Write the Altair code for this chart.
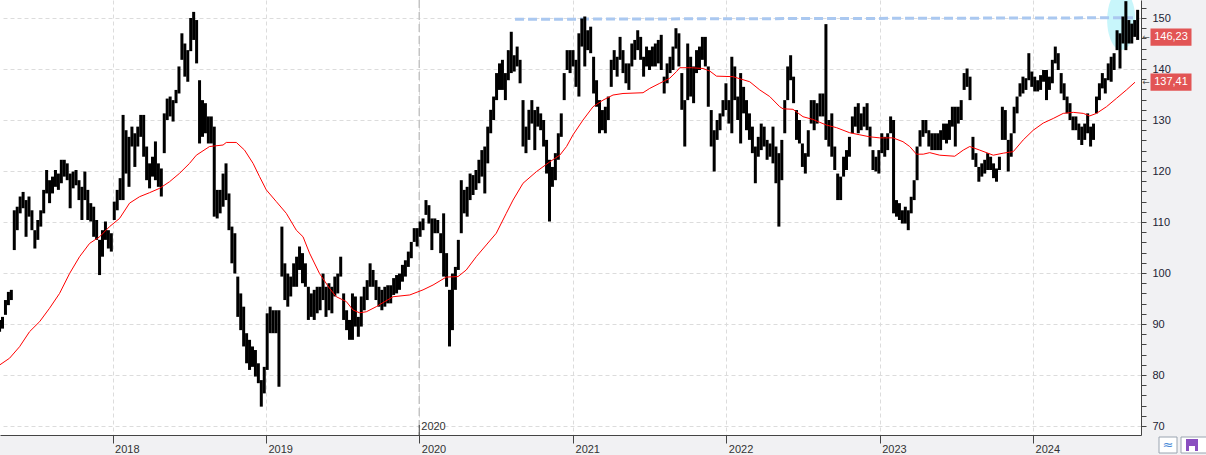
import altair as alt
import pandas as pd
import numpy as np

# ---------------- data ----------------
START = "2017-04-07"          # first weekly bar
# weekly high / low of the price bars
HIGH = [
    90.8, 91.4, 94.7, 96.3, 96.7, 112.3, 113.0, 115.0, 115.9, 114.3,
    115.0, 112.3, 108.4, 110.4, 112.3, 116.3, 120.2, 118.2, 118.9, 120.2,
    119.5, 122.2, 122.2, 121.5, 119.5, 119.9, 120.2, 118.2, 116.9, 119.9,
    116.3, 113.7, 113.0, 110.4, 106.5, 108.4, 110.1, 108.4, 107.8, 114.0,
    116.3, 118.6, 131.0, 128.0, 126.7, 128.7, 127.4, 128.7, 131.0, 131.0,
    124.8, 121.5, 122.8, 125.8, 121.5, 120.5, 131.3, 134.2, 134.6, 133.9,
    135.9, 140.5, 147.0, 145.0, 143.7, 150.0, 151.2, 149.6, 137.8, 133.9,
    133.3, 130.7, 130.7, 128.7, 116.3, 116.3, 119.5, 121.5, 115.6, 109.1,
    107.8, 99.3, 96.0, 93.4, 88.2, 86.9, 85.6, 84.9, 82.3, 79.0,
    81.6, 92.1, 93.4, 92.7, 92.7, 92.7, 109.1, 101.9, 99.9, 99.3,
    101.9, 103.2, 105.2, 103.9, 101.9, 97.3, 96.0, 96.7, 97.3, 97.3,
    99.9, 97.3, 98.0, 97.3, 99.3, 99.9, 103.2, 96.0, 92.7, 90.8,
    96.0, 95.4, 91.4, 95.4, 97.3, 98.6, 101.9, 100.6, 98.6, 97.3,
    96.7, 97.3, 97.6, 97.6, 99.0, 99.6, 99.9, 101.6, 102.5, 104.2,
    106.1, 108.8, 108.8, 110.1, 110.7, 114.3, 113.3, 110.7, 110.7, 110.4,
    107.8, 111.7, 103.9, 96.7, 99.9, 101.2, 106.5, 118.2, 116.3, 116.9,
    119.5, 119.2, 120.2, 122.2, 124.1, 124.8, 128.7, 132.0, 134.6, 139.2,
    141.1, 141.8, 139.2, 143.7, 147.3, 142.7, 144.4, 141.8, 133.9, 128.7,
    132.0, 133.9, 131.95, 132.6, 131.3, 130.0, 126.1, 122.2, 120.8, 123.5,
    127.4, 131.3, 139.2, 143.7, 143.7, 143.7, 141.8, 147.0, 149.9, 150.3,
    147.6, 148.3, 142.4, 137.8, 133.9, 131.95, 132.6, 134.6, 141.8, 143.7,
    142.4, 146.3, 143.7, 141.1, 141.1, 145.0, 145.7, 147.6, 146.3, 142.4,
    144.4, 143.7, 144.4, 145.0, 145.7, 146.7, 138.5, 141.1, 142.4, 144.4,
    148.0, 147.0, 139.2, 133.9, 145.0, 142.4, 140.5, 143.7, 144.4, 146.3,
    146.3, 140.5, 131.95, 128.0, 130.0, 131.3, 133.9, 137.2, 133.9, 142.4,
    140.5, 134.6, 139.2, 136.5, 133.9, 131.3, 128.7, 124.8, 126.7, 129.3,
    128.7, 126.1, 125.4, 128.7, 124.8, 123.5, 126.1, 133.9, 140.5, 142.7,
    138.5, 131.95, 130.0, 125.4, 123.5, 128.0, 133.9, 133.9, 133.3, 135.2,
    135.2, 148.8, 130.0, 131.3, 124.8, 119.5, 118.9, 122.8, 124.1, 126.7,
    130.7, 132.6, 133.3, 131.3, 132.6, 133.3, 128.7, 124.1, 122.8, 124.1,
    127.4, 126.7, 127.4, 130.7, 130.0, 114.3, 113.7, 112.3, 113.0, 112.3,
    114.95, 118.2, 124.8, 128.0, 130.0, 130.0, 128.0, 127.4, 127.4, 127.4,
    128.0, 129.3, 129.3, 130.0, 132.6, 132.6, 132.6, 133.9, 139.2, 140.1,
    138.5, 126.7, 123.5, 120.8, 121.5, 122.2, 123.5, 122.8, 121.5, 120.5,
    122.8, 132.6, 131.95, 126.1, 127.4, 132.6, 134.6, 137.2, 138.5, 138.2,
    143.1, 139.5, 138.5, 137.8, 138.8, 139.8, 139.8, 138.5, 141.8, 144.4,
    143.1, 139.2, 137.2, 134.6, 133.3, 130.7, 130.7, 129.3, 128.7, 129.3,
    131.3, 128.7, 129.3, 134.6, 137.2, 139.2, 138.2, 141.1, 142.4, 143.1,
    147.6, 147.0, 150.3, 153.3, 149.6, 148.9, 149.6, 151.6,
]
LOW = [
    88.5, 89.1, 91.8, 93.7, 94.7, 104.5, 108.4, 111.7, 112.7, 107.1,
    111.05, 108.4, 104.8, 106.5, 109.1, 111.7, 115.6, 113.7, 115.6, 116.9,
    116.3, 117.6, 118.9, 118.2, 112.7, 116.6, 117.2, 114.3, 110.4, 114.3,
    110.4, 110.1, 107.1, 106.5, 99.6, 103.2, 106.5, 104.8, 104.2, 110.4,
    112.3, 114.3, 114.3, 119.5, 116.9, 124.8, 120.8, 124.8, 126.7, 122.8,
    118.2, 116.6, 118.9, 118.2, 116.9, 115.0, 123.5, 130.0, 130.7, 129.7,
    133.3, 135.2, 141.8, 138.5, 137.5, 143.5, 145.7, 141.1, 125.4, 126.7,
    127.4, 125.4, 125.4, 111.05, 110.7, 111.7, 113.0, 114.3, 108.4, 101.9,
    99.9, 91.4, 88.8, 85.6, 82.3, 81.0, 81.6, 79.7, 78.4, 73.8,
    76.4, 81.0, 88.2, 88.2, 88.2, 77.7, 99.3, 94.7, 93.4, 95.4,
    97.3, 97.3, 100.6, 98.0, 97.3, 90.8, 91.4, 90.8, 92.1, 92.7,
    94.7, 91.4, 92.7, 92.1, 95.4, 96.0, 99.3, 90.8, 88.8, 86.9,
    86.9, 89.5, 87.5, 89.5, 92.7, 94.7, 97.3, 97.3, 94.7, 93.4,
    92.7, 93.4, 94.05, 94.05, 95.7, 96.0, 96.7, 98.3, 99.3, 101.2,
    102.9, 106.1, 105.2, 107.1, 108.4, 111.4, 109.7, 104.5, 107.8, 107.8,
    103.9, 99.3, 97.3, 85.6, 88.8, 96.7, 100.6, 107.8, 111.7, 111.05,
    114.3, 115.3, 116.3, 117.6, 118.9, 115.6, 121.5, 127.4, 130.0, 133.9,
    135.9, 135.9, 133.9, 137.8, 139.2, 139.5, 140.5, 137.2, 124.8, 123.5,
    126.1, 129.3, 124.1, 128.7, 128.0, 124.8, 119.5, 110.1, 116.9, 118.2,
    122.2, 126.7, 133.9, 139.8, 139.2, 140.5, 136.5, 134.6, 144.4, 140.5,
    143.7, 143.1, 135.2, 132.6, 127.4, 128.0, 127.4, 130.0, 136.5, 139.8,
    138.5, 141.8, 139.2, 137.2, 135.9, 140.5, 141.8, 143.7, 141.8, 138.5,
    140.5, 139.8, 140.5, 140.5, 141.1, 139.8, 135.2, 137.2, 139.2, 139.8,
    144.0, 140.5, 132.0, 124.8, 133.9, 134.6, 133.3, 139.2, 139.8, 141.8,
    140.5, 132.6, 124.8, 119.9, 126.1, 128.0, 130.7, 131.95, 129.3, 127.4,
    133.9, 130.0, 125.4, 131.3, 128.0, 126.1, 123.5, 117.6, 122.8, 124.1,
    124.8, 122.2, 122.8, 121.5, 117.6, 109.1, 118.2, 127.4, 133.9, 137.8,
    133.3, 126.1, 125.4, 120.8, 119.5, 122.8, 129.3, 128.0, 129.3, 130.7,
    130.7, 126.1, 124.8, 122.8, 120.2, 114.3, 114.3, 118.9, 120.2, 122.8,
    127.4, 128.7, 127.4, 128.0, 128.7, 128.0, 124.8, 120.2, 119.9, 119.5,
    123.5, 122.8, 124.1, 127.4, 111.7, 111.05, 110.4, 109.7, 109.7, 108.4,
    111.7, 114.3, 118.2, 124.8, 126.7, 127.4, 124.8, 124.1, 124.1, 124.1,
    124.1, 126.1, 125.4, 126.1, 128.7, 124.8, 129.3, 130.0, 135.9, 136.5,
    133.9, 122.2, 120.8, 117.9, 118.9, 119.5, 120.2, 120.2, 118.6, 117.9,
    120.2, 126.1, 126.1, 119.9, 122.8, 127.4, 131.3, 134.6, 135.2, 135.9,
    137.8, 136.5, 135.6, 135.6, 135.9, 137.5, 133.9, 135.9, 137.2, 141.1,
    139.8, 135.2, 133.9, 131.3, 130.0, 128.0, 128.0, 126.1, 125.1, 126.1,
    127.4, 124.8, 126.1, 131.3, 133.9, 136.2, 135.2, 137.8, 137.5, 139.8,
    143.7, 140.1, 145.0, 143.7, 145.0, 145.0, 146.3, 145.7,
]
# moving average (red line): position in weeks after START, and value
MA_WEEK = [
    0, 3.4, 6.8, 10.2, 13.6, 17.0, 20.4, 23.8, 27.2, 30.6,
    34.0, 37.4, 40.8, 44.2, 47.6, 51.0, 54.4, 57.8, 61.2, 64.6,
    66.9, 71.4, 76.0, 77.1, 80.5, 83.3, 86.2, 88.4, 90.7, 94.1,
    97.5, 100.9, 103.2, 105.4, 108.8, 112.2, 114.5, 117.9, 120.2, 122.4,
    124.7, 128.1, 131.0, 133.8, 139.5, 144.0, 147.4, 151.9, 155.9, 158.7,
    162.1, 165.5, 168.9, 172.3, 174.6, 178.0, 182.6, 187.1, 190.5, 192.8,
    195.0, 198.4, 201.8, 205.2, 208.6, 212.0, 218.8, 221.1, 224.5, 227.9,
    230.2, 231.3, 235.3, 239.2, 241.5, 243.8, 249.4, 255.1, 258.5, 261.9,
    265.3, 266.4, 269.8, 273.2, 276.6, 281.2, 284.6, 289.1, 292.5, 295.9,
    299.3, 303.8, 307.2, 309.5, 311.8, 314.1, 316.3, 319.7, 324.8, 327.7,
    329.9, 333.3, 337.9, 341.3, 344.7, 348.1, 351.5, 354.9, 358.3, 361.7,
    365.1, 368.5, 370.7, 373.0, 376.4, 379.8, 383.2, 386.1,
]
MA_VALUE = [
    81.96, 83.3, 85.55, 88.5, 90.45, 93.1, 96.0, 99.9, 103.2, 105.8,
    107.1, 109.1, 110.7, 113.7, 114.96, 115.75, 116.6, 117.9, 119.55, 121.5,
    123.1, 124.8, 125.1, 125.6, 125.6, 124.1, 121.5, 118.9, 116.3, 114.0,
    111.7, 108.4, 107.1, 103.9, 99.9, 97.0, 95.35, 94.4, 92.75, 92.2,
    92.4, 93.4, 94.4, 95.35, 95.7, 96.7, 97.65, 99.2, 99.3, 100.6,
    103.2, 105.5, 107.8, 111.7, 114.3, 117.6, 119.9, 121.8, 123.1, 124.8,
    127.1, 130.0, 132.6, 133.9, 134.9, 135.2, 135.35, 136.2, 137.2, 138.2,
    139.5, 140.25, 140.25, 140.1, 139.6, 138.6, 138.5, 137.5, 135.9, 134.6,
    132.6, 132.2, 132.1, 130.65, 130.1, 129.0, 128.5, 127.5, 127.1, 126.7,
    126.5, 126.5, 125.75, 124.8, 123.3, 123.3, 123.6, 123.1, 122.9, 124.1,
    124.8, 124.1, 123.1, 123.5, 123.8, 126.1, 128.0, 129.4, 130.3, 131.3,
    131.5, 131.3, 130.8, 131.3, 132.6, 134.25, 135.9, 137.41,
]
TREND_DATES = ["2020-08-16", "2024-08-26"]
TREND_VALUES = [149.75, 150.05]
HIGHLIGHT_DATE = ["2024-07-29"]
HIGHLIGHT_VALUE = [149.6]
LAST_VALUES = [146.23, 137.41]
LAST_LABELS = ["146,23", "137,41"]
YEARS = [2018, 2019, 2020, 2021, 2022, 2023, 2024]
SEPARATOR_YEAR = [2020]
Y_TICKS = list(range(70, 154, 2))

# ---------------- tables ----------------
bars = pd.DataFrame({
    "date": pd.date_range(START, periods=len(HIGH), freq="7D"),
    "high": HIGH, "low": LOW,
})
ma = pd.DataFrame({
    "date": pd.Timestamp(START) + pd.to_timedelta(np.array(MA_WEEK) * 7, unit="D"),
    "price": MA_VALUE,
})
trend = pd.DataFrame({"date": [TREND_DATES[0]], "date2": [TREND_DATES[1]],
                      "price": [TREND_VALUES[0]], "price2": [TREND_VALUES[1]]})
highlight = pd.DataFrame({"date": HIGHLIGHT_DATE, "price": HIGHLIGHT_VALUE})
last = pd.DataFrame({"price": LAST_VALUES, "label": LAST_LABELS})
sep = pd.DataFrame({"date": [f"{y}-01-01" for y in SEPARATOR_YEAR],
                    "label": [str(y) for y in SEPARATOR_YEAR]})
one = pd.DataFrame({"a": [0]})

FONT = "Liberation Sans"

xscale = alt.Scale(domain=[alt.DateTime(year=2017, month=4, date=8),
                           alt.DateTime(year=2024, month=9, date=14)], nice=False)
yscale = alt.Scale(domain=[68.24, 153.53], nice=False, zero=False)

xaxis = alt.Axis(
    values=[alt.DateTime(year=y, month=1, date=1) for y in YEARS],
    format="%Y", labelAlign="left", labelBaseline="top", labelPadding=0,
    labelOffset=2, labelFontSize=11, labelFont=FONT, labelColor="#333333",
    tickSize=8, tickColor="#444444", domainColor="#444444", domainWidth=1,
    grid=True, gridColor="#dcdcdc", gridDash=[4, 3], labelFlush=False,
    labelOverlap=False, title=None,
)
yaxis = alt.Axis(
    orient="right", values=Y_TICKS,
    labelExpr="datum.value % 10 === 0 ? datum.label : ''",
    labelFontSize=11, labelFont=FONT, labelColor="#1c2333", labelPadding=6,
    tickSize=5, tickColor="#444444", domainColor="#444444", domainWidth=1,
    grid=True, gridColor="#dcdcdc", gridDash=[4, 3],
    gridOpacity={"condition": {"test": "datum.value % 10 === 0", "value": 1}, "value": 0},
    labelOverlap=False, title=None,
)


def X(field="date"):
    return alt.X(f"{field}:T", scale=xscale, axis=xaxis, title=None)


def Y(field="price"):
    return alt.Y(f"{field}:Q", scale=yscale, axis=yaxis, title=None)


ellipse_path = "M -0.47 0 A 0.47 1 0 1 1 0.47 0 A 0.47 1 0 1 1 -0.47 0 Z"
box_path = "M -1 -0.42 L 1 -0.42 L 1 0.42 L -1 0.42 Z"

l_ellipse = alt.Chart(highlight).mark_point(
    shape=ellipse_path, size=3600, filled=True, color="#c8f6fb", opacity=1,
    strokeWidth=0, clip=True,
).encode(x=X(), y=Y())

l_sep = alt.Chart(sep).mark_rule(color="#c4c4c4", strokeWidth=1.5, strokeDash=[8, 4]).encode(x=X())
l_sep_tick = alt.Chart(sep).mark_rule(color="#444444", strokeWidth=1).encode(
    x=X(), y=alt.value(425), y2=alt.value(435))
l_sep_text = alt.Chart(sep).mark_text(
    align="left", baseline="bottom", dx=2, fontSize=11, font=FONT, color="#333333"
).encode(x=X(), y=alt.value(432), text="label:N")

l_trend = alt.Chart(trend).mark_rule(
    color="#aac8f0", strokeWidth=3, strokeDash=[9, 4]
).encode(x=X(), x2="date2:T", y=Y(), y2="price2:Q")

l_bars = alt.Chart(bars).mark_rule(color="#000000", strokeWidth=3.0, clip=True).encode(
    x=X(), y=Y("low"), y2="high:Q")

l_ma = alt.Chart(ma).mark_line(color="#ff0000", strokeWidth=1, clip=True).encode(x=X(), y=Y())

l_boxes = alt.Chart(last).mark_point(
    shape=box_path, size=1681, filled=True, color="#e25555", opacity=1, strokeWidth=0
).encode(x=alt.value(1171), y=Y())
l_box_text = alt.Chart(last).mark_text(
    align="center", baseline="middle", fontSize=11, font=FONT, color="white"
).encode(x=alt.value(1171), y=Y(), text="label:N")
l_arrows = alt.Chart(last).mark_text(
    align="center", baseline="middle", fontSize=9, font="DejaVu Sans", color="#555555"
).encode(x=alt.value(1146), y=Y(), text=alt.value("←"))

# small toolbar buttons bottom-right
l_btn1 = alt.Chart(one).mark_rect(fill="white", stroke="#9aa4b0", strokeWidth=1).encode(
    x=alt.value(1159), x2=alt.value(1177), y=alt.value(437), y2=alt.value(453))
l_btn1_t = alt.Chart(one).mark_text(fontSize=13, color="#4a8ad8", font="DejaVu Sans").encode(
    x=alt.value(1168), y=alt.value(445), text=alt.value("≈"))
l_btn2 = alt.Chart(one).mark_rect(fill="white", stroke="#9aa4b0", strokeWidth=1).encode(
    x=alt.value(1181), x2=alt.value(1210), y=alt.value(437), y2=alt.value(453))
l_btn2_i = alt.Chart(one).mark_rect(fill="#8a4fc0").encode(
    x=alt.value(1186), x2=alt.value(1198), y=alt.value(439), y2=alt.value(451))
l_btn2_w = alt.Chart(one).mark_rect(fill="white").encode(
    x=alt.value(1189), x2=alt.value(1195), y=alt.value(446), y2=alt.value(451))

chart = alt.layer(
    l_ellipse, l_sep, l_trend, l_bars, l_ma, l_sep_tick, l_sep_text,
    l_boxes, l_box_text, l_arrows, l_btn1, l_btn1_t, l_btn2, l_btn2_i, l_btn2_w,
).properties(
    width=1141, height=435,
    autosize=alt.AutoSizeParams(type="none"),
    padding={"left": 0, "top": 0, "right": 65, "bottom": 20},
    background="#f1f1f3",
).configure_view(
    fill="white", stroke=None
)

chart.save("out.html", embed_options={"renderer": "svg", "actions": False})
